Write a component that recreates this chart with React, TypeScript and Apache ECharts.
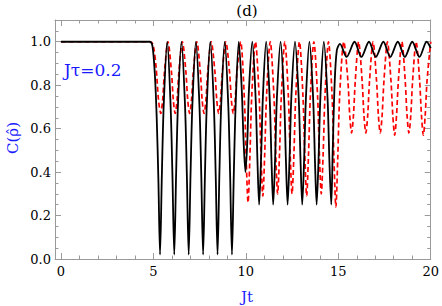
import React, { useEffect, useRef } from "react";
import * as echarts from "echarts";

// Tick values
const xMajorTicks = [0, 5, 10, 15, 20];
const xMinorTicks = [0, 1, 2, 3, 4, 5, 6, 7, 8, 9, 10, 11, 12, 13, 14, 15, 16, 17, 18, 19, 20];
const yMajorTicks = [0, 0.2, 0.4, 0.6, 0.8, 1.0];
const yMinorTicks = [0, 0.05, 0.1, 0.15, 0.2, 0.25, 0.3, 0.35, 0.4, 0.45, 0.5, 0.55, 0.6, 0.65, 0.7, 0.75, 0.8, 0.85, 0.9, 0.95, 1.0, 1.05];

// Black solid curve (Jt, C)
const blackCurve: number[][] = [
  [0, 1.0], [4.8, 1.0], [4.95, 0.98], [5.08, 0.85], [5.18, 0.65], [5.27, 0.37], [5.36, 0.02],
  [5.46, 0.39], [5.56, 0.71], [5.75, 1.0],
  [5.93, 0.71], [6.03, 0.39], [6.13, 0.02], [6.23, 0.39], [6.33, 0.71], [6.52, 1.0],
  [6.71, 0.71], [6.81, 0.39], [6.91, 0.02], [7.01, 0.39], [7.11, 0.71], [7.3, 1.0],
  [7.49, 0.71], [7.59, 0.39], [7.69, 0.02], [7.79, 0.39], [7.89, 0.71], [8.08, 1.0],
  [8.27, 0.71], [8.37, 0.39], [8.47, 0.02], [8.57, 0.39], [8.67, 0.71], [8.86, 1.0],
  [9.05, 0.71], [9.15, 0.39], [9.25, 0.02], [9.35, 0.39], [9.45, 0.71], [9.62, 1.0],
  [9.78, 0.78], [9.88, 0.54], [9.98, 0.4], [10.08, 0.54], [10.17, 0.78], [10.35, 1.0],
  [10.53, 0.74], [10.63, 0.45], [10.72, 0.25], [10.82, 0.45], [10.92, 0.74], [11.1, 1.0],
  [11.29, 0.74], [11.39, 0.45], [11.48, 0.25], [11.58, 0.45], [11.68, 0.74], [11.88, 1.0],
  [12.07, 0.74], [12.17, 0.45], [12.26, 0.25], [12.36, 0.45], [12.46, 0.74], [12.66, 1.0],
  [12.86, 0.74], [12.96, 0.45], [13.05, 0.25], [13.15, 0.45], [13.25, 0.74], [13.44, 1.0],
  [13.64, 0.74], [13.74, 0.45], [13.83, 0.25], [13.93, 0.45], [14.03, 0.74], [14.22, 1.0],
  [14.42, 0.74], [14.52, 0.45], [14.62, 0.25], [14.7, 0.5], [14.8, 0.8], [14.92, 0.96], [15.09, 0.99],
  [15.45, 0.93], [15.88, 1.0], [16.25, 0.93], [16.66, 1.0], [17.03, 0.93], [17.44, 1.0],
  [17.81, 0.93], [18.22, 1.0], [18.6, 0.93], [19.0, 1.0], [19.39, 0.93], [19.78, 1.0], [20, 0.97],
];

// Red dashed curve (Jt, C)
const redCurve: number[][] = [
  [0, 1.0], [4.85, 1.0], [5.0, 0.98], [5.15, 0.88], [5.28, 0.73], [5.4, 0.67],
  [5.5, 0.73], [5.6, 0.86], [5.79, 1.0],
  [5.98, 0.86], [6.08, 0.73], [6.18, 0.67], [6.28, 0.73], [6.38, 0.86], [6.57, 1.0],
  [6.76, 0.86], [6.86, 0.73], [6.96, 0.67], [7.06, 0.73], [7.16, 0.86], [7.35, 1.0],
  [7.54, 0.86], [7.64, 0.73], [7.74, 0.67], [7.84, 0.73], [7.94, 0.86], [8.13, 1.0],
  [8.33, 0.86], [8.43, 0.73], [8.53, 0.67], [8.63, 0.73], [8.73, 0.86], [8.92, 1.0],
  [9.12, 0.86], [9.22, 0.73], [9.32, 0.67], [9.42, 0.73], [9.52, 0.86], [9.72, 1.0],
  [9.92, 0.74], [10.02, 0.46], [10.12, 0.26], [10.22, 0.47], [10.32, 0.75], [10.52, 1.0],
  [10.72, 0.75], [10.82, 0.48], [10.92, 0.29], [11.02, 0.48], [11.12, 0.75], [11.32, 1.0],
  [11.52, 0.75], [11.62, 0.48], [11.72, 0.3], [11.82, 0.48], [11.92, 0.75], [12.11, 1.0],
  [12.3, 0.75], [12.4, 0.48], [12.5, 0.3], [12.6, 0.48], [12.7, 0.75], [12.9, 1.0],
  [13.09, 0.75], [13.19, 0.48], [13.29, 0.29], [13.39, 0.48], [13.49, 0.75], [13.68, 1.0],
  [13.88, 0.75], [13.98, 0.48], [14.08, 0.3], [14.18, 0.48], [14.28, 0.75], [14.47, 1.0],
  [14.67, 0.74], [14.77, 0.45], [14.87, 0.24], [14.97, 0.46], [15.08, 0.76], [15.3, 1.0],
  [15.52, 0.82], [15.62, 0.66], [15.72, 0.58], [15.82, 0.66], [15.92, 0.82], [16.1, 1.0],
  [16.29, 0.82], [16.39, 0.66], [16.49, 0.58], [16.59, 0.66], [16.69, 0.82], [16.88, 1.0],
  [17.07, 0.82], [17.17, 0.66], [17.27, 0.58], [17.37, 0.66], [17.47, 0.82], [17.66, 1.0],
  [17.85, 0.82], [17.95, 0.66], [18.05, 0.57], [18.15, 0.66], [18.25, 0.82], [18.44, 1.0],
  [18.62, 0.82], [18.72, 0.66], [18.82, 0.58], [18.92, 0.66], [19.02, 0.82], [19.21, 1.0],
  [19.4, 0.82], [19.5, 0.66], [19.6, 0.57], [19.7, 0.66], [19.8, 0.82], [20, 1.0],
];

const FONT = "DejaVu Serif";
const FRAME = "#9a9a9a";
const BLUE = "#1a1aff";

function xAxisDef(position: "bottom" | "top", ticks: number[], len: number, labels: boolean, line: boolean) {
  return {
    type: "value",
    position,
    min: -0.32,
    max: 20,
    axisLine: { show: line, onZero: false, lineStyle: { color: FRAME, width: 1 } },
    axisTick: { show: true, inside: true, length: len, customValues: ticks, lineStyle: { color: FRAME, width: 1 } },
    axisLabel: labels
      ? { show: true, customValues: xMajorTicks, color: "#000", fontFamily: FONT, fontSize: 13, margin: 6 }
      : { show: false },
    splitLine: { show: false },
  };
}

function yAxisDef(position: "left" | "right", ticks: number[], len: number, labels: boolean, line: boolean) {
  return {
    type: "value",
    position,
    min: 0,
    max: 1.1,
    axisLine: { show: line, onZero: false, lineStyle: { color: FRAME, width: 1 } },
    axisTick: { show: true, inside: true, length: len, customValues: ticks, lineStyle: { color: FRAME, width: 1 } },
    axisLabel: labels
      ? {
          show: true,
          customValues: yMajorTicks,
          color: "#000",
          fontFamily: FONT,
          fontSize: 13,
          margin: 4,
          formatter: (v: number) => v.toFixed(1),
        }
      : { show: false },
    splitLine: { show: false },
  };
}

export default function App() {
  const ref = useRef<HTMLDivElement>(null);
  useEffect(() => {
    if (!ref.current) return;
    const chart = echarts.init(ref.current, undefined, { renderer: "svg" });
    chart.setOption({
      animation: false,
      backgroundColor: "#fff",
      textStyle: { fontFamily: FONT },
      grid: { left: 55, right: 9, top: 20, bottom: 47, containLabel: false },
      xAxis: [
        xAxisDef("bottom", xMajorTicks, 6, true, true),
        xAxisDef("bottom", xMinorTicks, 3.5, false, false),
        xAxisDef("top", xMajorTicks, 6, false, true),
        xAxisDef("top", xMinorTicks, 3.5, false, false),
      ],
      yAxis: [
        yAxisDef("left", yMajorTicks, 6, true, true),
        yAxisDef("left", yMinorTicks, 3.5, false, false),
        yAxisDef("right", yMajorTicks, 6, false, true),
        yAxisDef("right", yMinorTicks, 3.5, false, false),
      ],
      series: [
        {
          name: "red",
          type: "line",
          xAxisIndex: 0,
          yAxisIndex: 0,
          data: redCurve,
          showSymbol: false,
          smooth: 0.3,
          lineStyle: { color: "#ff0000", width: 1.7, type: [5, 3] },
          z: 2,
        },
        {
          name: "black",
          type: "line",
          xAxisIndex: 0,
          yAxisIndex: 0,
          data: blackCurve,
          showSymbol: false,
          smooth: 0.3,
          lineStyle: { color: "#000", width: 1.8 },
          z: 3,
        },
      ],
      graphic: [
        {
          type: "text",
          x: 247,
          y: 11,
          style: { text: "(d)", fontFamily: FONT, fontSize: 15, fill: "#000", textAlign: "center", textVerticalAlign: "middle" },
        },
        {
          type: "text",
          x: 247,
          y: 297,
          style: { text: "Jt", fontFamily: FONT, fontSize: 15, fill: BLUE, textAlign: "center", textVerticalAlign: "middle" },
        },
        {
          type: "text",
          x: 13,
          y: 138,
          rotation: Math.PI / 2,
          style: { text: "C(ρ̂)", fontFamily: FONT, fontSize: 15, fill: BLUE, textAlign: "center", textVerticalAlign: "middle" },
        },
        {
          type: "text",
          x: 64,
          y: 70,
          style: { text: "Jτ=0.2", fontFamily: FONT, fontSize: 17, fill: BLUE, textAlign: "left", textVerticalAlign: "middle" },
        },
      ],
    });
    return () => chart.dispose();
  }, []);
  return <div ref={ref} style={{ position: "fixed", left: 0, top: 0, width: 442, height: 306 }} />;
}
